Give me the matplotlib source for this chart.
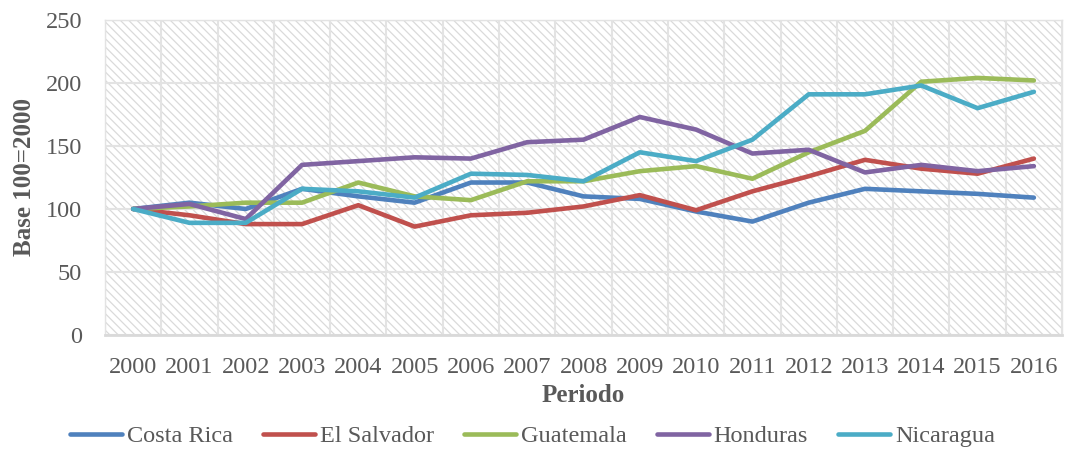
import numpy as np
import matplotlib
matplotlib.use('Agg')
import matplotlib.pyplot as plt

years = ['2000', '2001', '2002', '2003', '2004', '2005', '2006', '2007', '2008',
         '2009', '2010', '2011', '2012', '2013', '2014', '2015', '2016']

costa_rica = [100, 105, 100, 116, 110, 105, 121, 121, 110, 108, 98, 90, 105, 116, 114, 112, 109]
el_salvador = [100, 95, 88, 88, 103, 86, 95, 97, 102, 111, 99, 114, 126, 139, 132, 128, 140]
guatemala = [100, 102, 105, 105, 121, 110, 107, 122, 122, 130, 134, 124, 145, 162, 201, 204, 202]
honduras = [100, 104, 92, 135, 138, 141, 140, 153, 155, 173, 163, 144, 147, 129, 135, 130, 134]
nicaragua = [100, 89, 89, 116, 114, 109, 128, 127, 122, 145, 138, 155, 191, 191, 198, 180, 193]

series = [('Costa Rica', costa_rica, '#4F81BD'),
          ('El Salvador', el_salvador, '#C0504D'),
          ('Guatemala', guatemala, '#9BBB59'),
          ('Honduras', honduras, '#8064A2'),
          ('Nicaragua', nicaragua, '#4BACC6')]

TXT = '#595959'
GRID = '#e3e3e3'
plt.rcParams['font.family'] = ['Liberation Serif', 'DejaVu Serif']
plt.rcParams['hatch.linewidth'] = 0.9

fig = plt.figure(figsize=(10.65, 4.5), dpi=100)
ax = fig.add_axes([0.0986, 0.2556, 0.8986, 0.70])

# hatched plot area
ax.patch.set_facecolor('white')
ax.patch.set_edgecolor('#dadada')
ax.patch.set_linewidth(0)
ax.patch.set_hatch('\\\\\\\\')

x = np.arange(len(years))
for name, vals, col in series:
    ax.plot(x, vals, color=col, lw=3.3, label=name, solid_capstyle='round', solid_joinstyle='round')

ax.set_xlim(-0.5, len(years) - 0.5)
ax.set_ylim(0, 250)
ax.set_yticks(np.arange(0, 251, 50))
ax.set_xticks(x)
ax.set_xticklabels(years)
ax.set_xticks(np.arange(-0.5, len(years), 0.5), minor=True)

ax.grid(axis='y', which='major', color=GRID, lw=1.5)
ax.grid(axis='x', which='minor', color=GRID, lw=1.5)
ax.set_axisbelow(True)

for s in ['top', 'right', 'left']:
    ax.spines[s].set_color(GRID)
    ax.spines[s].set_linewidth(1.0)
ax.spines['bottom'].set_color('#d9d9d9')
ax.spines['bottom'].set_linewidth(2)

ax.tick_params(axis='both', which='both', length=0, colors=TXT, labelsize=17.5)
ax.tick_params(axis='y', pad=16.5)
ax.tick_params(axis='x', pad=16)

ax.set_ylabel('Base 100=2000', fontsize=18, fontweight='bold', color=TXT, labelpad=7)
ax.set_xlabel('Periodo', fontsize=18, fontweight='bold', color=TXT, labelpad=4)

# legend sits at the very bottom (clipped in the original), keep it just inside
fig.legend(loc='lower center', bbox_to_anchor=(0.5, -0.005), ncol=5, frameon=False,
           fontsize=17.5, labelcolor=TXT, handlelength=2.15, handletextpad=0.2,
           columnspacing=1.23, borderpad=0.1, borderaxespad=0.1)

fig.savefig('out.png', dpi=100)
